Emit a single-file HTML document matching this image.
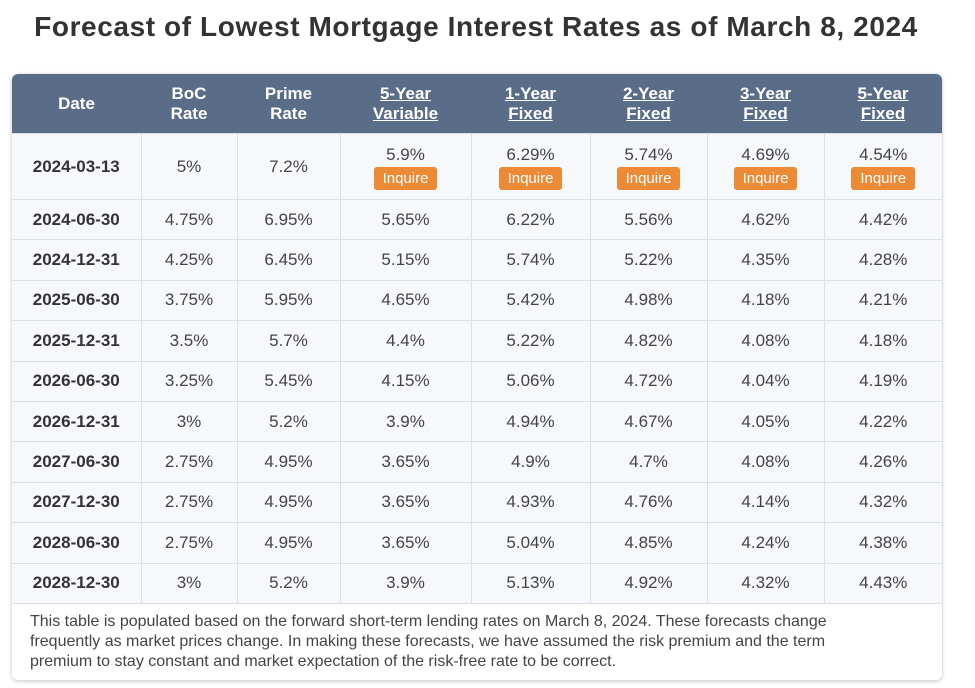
<!DOCTYPE html>
<html><head><style>
body{margin:0;width:975px;height:688px;background:#fff;font-family:"Liberation Sans",sans-serif;overflow:hidden;position:relative}
h1{position:absolute;top:11px;left:0;width:952px;text-align:center;margin:0;font-size:28px;font-weight:bold;color:#333;letter-spacing:0.6px}
.box{position:absolute;left:12px;top:74px;width:930px;height:606px;border-radius:6px;box-shadow:0 1px 4px rgba(0,0,0,.25);overflow:hidden;background:#fff}
table{border-collapse:collapse;width:930px;table-layout:fixed}
th{background:#5a6d88;color:#fff;font-size:17px;font-weight:bold;height:59px;line-height:20px;padding:0}
th u{text-decoration:underline}
td{background:#f6f8fb;border:1px solid #dcdfe3;text-align:center;font-size:17px;color:#444;height:39.4px;padding:0}
td:first-child{font-weight:bold;color:#333;border-left:none}
td:last-child{border-right:none}
tr.r1 td{height:65px;line-height:22px}
.b{display:inline-block;background:#ec8a36;color:#fff;font-size:15px;line-height:23px;padding:0 9px;border-radius:3px;margin-top:1px}
.f{padding:8px 70px 8px 18px;font-size:16px;line-height:20px;color:#444}
</style></head><body>
<h1>Forecast of Lowest Mortgage Interest Rates as of March 8, 2024</h1>
<div class="box">
<table>
<colgroup><col style="width:129px"><col style="width:96px"><col style="width:103px"><col style="width:131px"><col style="width:119px"><col style="width:117px"><col style="width:117px"><col style="width:118px"></colgroup>
<tr><th>Date</th><th>BoC<br>Rate</th><th>Prime<br>Rate</th><th><u>5-Year<br>Variable</u></th><th><u>1-Year<br>Fixed</u></th><th><u>2-Year<br>Fixed</u></th><th><u>3-Year<br>Fixed</u></th><th><u>5-Year<br>Fixed</u></th></tr>
<tr class="r1"><td>2024-03-13</td><td>5%</td><td>7.2%</td><td>5.9%<br><span class="b">Inquire</span></td><td>6.29%<br><span class="b">Inquire</span></td><td>5.74%<br><span class="b">Inquire</span></td><td>4.69%<br><span class="b">Inquire</span></td><td>4.54%<br><span class="b">Inquire</span></td></tr>
<tr><td>2024-06-30</td><td>4.75%</td><td>6.95%</td><td>5.65%</td><td>6.22%</td><td>5.56%</td><td>4.62%</td><td>4.42%</td></tr>
<tr><td>2024-12-31</td><td>4.25%</td><td>6.45%</td><td>5.15%</td><td>5.74%</td><td>5.22%</td><td>4.35%</td><td>4.28%</td></tr>
<tr><td>2025-06-30</td><td>3.75%</td><td>5.95%</td><td>4.65%</td><td>5.42%</td><td>4.98%</td><td>4.18%</td><td>4.21%</td></tr>
<tr><td>2025-12-31</td><td>3.5%</td><td>5.7%</td><td>4.4%</td><td>5.22%</td><td>4.82%</td><td>4.08%</td><td>4.18%</td></tr>
<tr><td>2026-06-30</td><td>3.25%</td><td>5.45%</td><td>4.15%</td><td>5.06%</td><td>4.72%</td><td>4.04%</td><td>4.19%</td></tr>
<tr><td>2026-12-31</td><td>3%</td><td>5.2%</td><td>3.9%</td><td>4.94%</td><td>4.67%</td><td>4.05%</td><td>4.22%</td></tr>
<tr><td>2027-06-30</td><td>2.75%</td><td>4.95%</td><td>3.65%</td><td>4.9%</td><td>4.7%</td><td>4.08%</td><td>4.26%</td></tr>
<tr><td>2027-12-30</td><td>2.75%</td><td>4.95%</td><td>3.65%</td><td>4.93%</td><td>4.76%</td><td>4.14%</td><td>4.32%</td></tr>
<tr><td>2028-06-30</td><td>2.75%</td><td>4.95%</td><td>3.65%</td><td>5.04%</td><td>4.85%</td><td>4.24%</td><td>4.38%</td></tr>
<tr><td>2028-12-30</td><td>3%</td><td>5.2%</td><td>3.9%</td><td>5.13%</td><td>4.92%</td><td>4.32%</td><td>4.43%</td></tr>
</table>
<div class="f">This table is populated based on the forward short-term lending rates on March 8, 2024. These forecasts change frequently as market prices change. In making these forecasts, we have assumed the risk premium and the term premium to stay constant and market expectation of the risk-free rate to be correct.</div>
</div>
</body></html>
